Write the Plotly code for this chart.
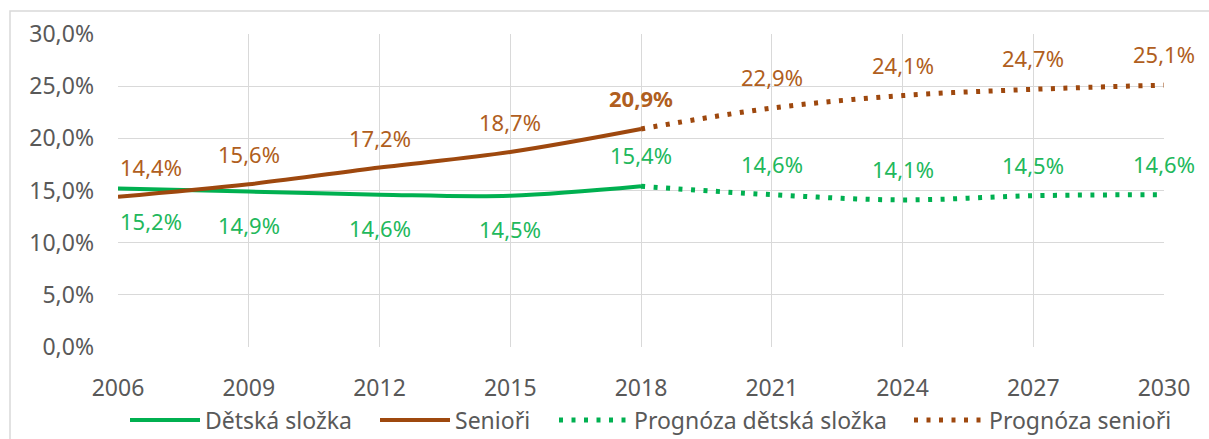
import plotly.graph_objects as go

years = ["2006", "2009", "2012", "2015", "2018", "2021", "2024", "2027", "2030"]
hist_years = years[:5]
fc_years = years[4:]

children = [15.2, 14.9, 14.6, 14.5, 15.4]
seniors = [14.4, 15.6, 17.2, 18.7, 20.9]
fc_children = [15.4, 14.6, 14.1, 14.5, 14.6]
fc_seniors = [20.9, 22.9, 24.1, 24.7, 25.1]

GREEN = "#00B050"
BROWN = "#9E480E"
GREEN_TXT = "#22B85C"
BROWN_TXT = "#B05E20"
GREY = "#595959"
FONT = "Noto Sans, Open Sans, sans-serif"

PLOT_L, PLOT_W = 118, 1046
legend_px = [128, 378, 557, 912]  # left edge of each legend entry
legend_names = ["legend", "legend2", "legend3", "legend4"]


def fmt(v):
    return f"{v:.1f}%".replace(".", ",")


fig = go.Figure()
fig.add_trace(go.Scatter(x=hist_years, y=[v / 100 for v in children], name="Dětská složka",
                         mode="lines", line=dict(color=GREEN, width=4, shape="spline"),
                         legend="legend", showlegend=True))
fig.add_trace(go.Scatter(x=hist_years, y=[v / 100 for v in seniors], name="Senioři",
                         mode="lines", line=dict(color=BROWN, width=4, shape="spline"),
                         legend="legend2", showlegend=True))
fig.add_trace(go.Scatter(x=fc_years, y=[v / 100 for v in fc_children], name="Prognóza dětská složka",
                         mode="lines", line=dict(color=GREEN, width=5, dash="4px,8.5px", shape="spline"),
                         legend="legend3", showlegend=True))
fig.add_trace(go.Scatter(x=fc_years, y=[v / 100 for v in fc_seniors], name="Prognóza senioři",
                         mode="lines", line=dict(color=BROWN, width=5, dash="4px,8.5px", shape="spline"),
                         legend="legend4", showlegend=True))

annotations = []


def add_labels(xs, ys, color, shift, skip_last=False, bold_first=False):
    n = len(xs) - (1 if skip_last else 0)
    for i, (x, y) in enumerate(list(zip(xs, ys))[:n]):
        idx = years.index(x)
        txt = fmt(y)
        if bold_first and i == 0:
            txt = f"<b>{txt}</b>"
        annotations.append(dict(x=idx, y=y / 100, text=txt, showarrow=False,
                                xref="x", yref="y", yshift=shift,
                                xanchor="left" if idx == 0 else "center",
                                font=dict(color=color, size=22, family=FONT)))


# 2018 senior value shared by the historical and forecast series: shown once, bold
add_labels(hist_years, seniors, BROWN_TXT, 30, skip_last=True)
add_labels(hist_years, children, GREEN_TXT, -33, skip_last=True)
add_labels(fc_years, fc_seniors, BROWN_TXT, 31, bold_first=True)
add_labels(fc_years, fc_children, GREEN_TXT, 31)

legend_cfg = {}
for name, px in zip(legend_names, legend_px):
    legend_cfg[name] = dict(orientation="h", xref="paper", x=(px - 3 - PLOT_L) / PLOT_W,
                            xanchor="left", yref="container", y=19 / 439, yanchor="middle",
                            font=dict(size=23, color=GREY, family=FONT), itemwidth=70,
                            bgcolor="rgba(0,0,0,0)", borderwidth=0, visible=True)

fig.update_layout(
    width=1209, height=439,
    showlegend=True,
    margin=dict(l=118, r=45, t=34, b=92, autoexpand=False),
    paper_bgcolor="white", plot_bgcolor="white",
    separators=", ",
    font=dict(family=FONT, color=GREY, size=22),
    annotations=annotations,
    shapes=[dict(type="rect", xref="paper", yref="paper",
                 x0=(10 - 118) / 1046, x1=(1225 - 118) / 1046,
                 y0=(347 - 460) / 313, y1=(347 - 11) / 313,
                 line=dict(color="#D9D9D9", width=1.5), layer="below")],
    **legend_cfg,
)
fig.update_xaxes(type="category", range=[0, 8], showgrid=True, gridcolor="#D9D9D9",
                 gridwidth=1, showline=False, zeroline=False, ticks="", automargin=False,
                 tickfont=dict(size=23, color=GREY, family=FONT), ticklabelstandoff=25)
fig.update_yaxes(range=[0, 0.30], dtick=0.05, tickformat=".1%", showgrid=True,
                 gridcolor="#D9D9D9", gridwidth=1, zeroline=False, showline=False,
                 automargin=False,
                 tickfont=dict(size=23, color=GREY, family=FONT), ticklabelstandoff=23)

fig.write_html("out.html", config={"displayModeBar": False},
               post_script="document.body.style.margin='0';document.body.style.overflow='hidden';")
